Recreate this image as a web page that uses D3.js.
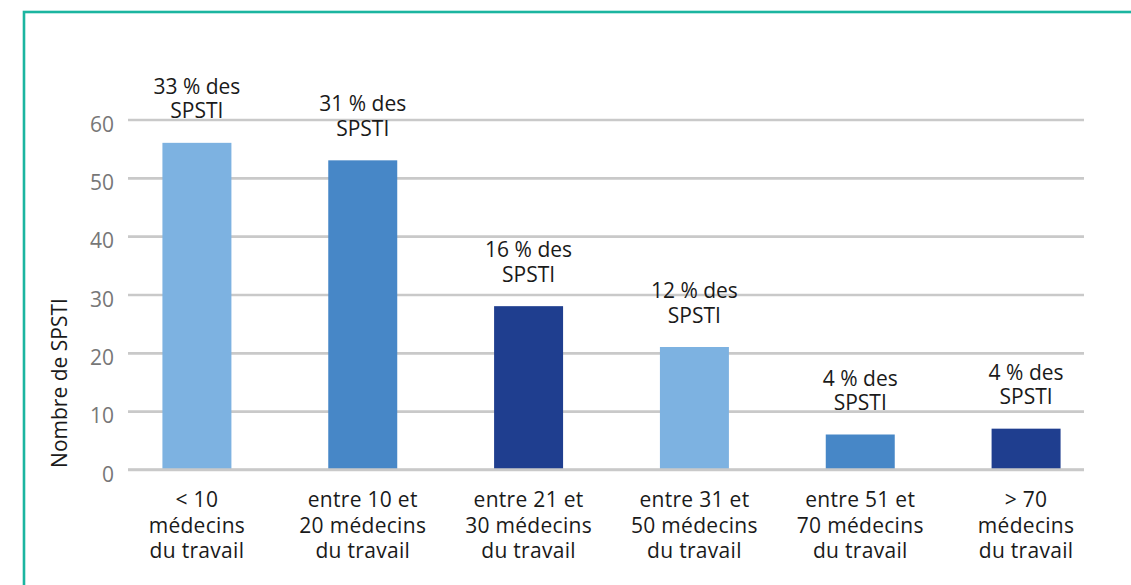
<!DOCTYPE html>
<html>
<head>
<meta charset="utf-8">
<script src="https://cdn.jsdelivr.net/npm/d3@7"></script>
<style>
  html, body { margin: 0; padding: 0; background: #fff; }
  svg { display: block; font-family: "Open Sans", sans-serif; }
</style>
</head>
<body>
<script>
// data
var categories = [
  ["< 10", "médecins", "du travail"],
  ["entre 10 et", "20 médecins", "du travail"],
  ["entre 21 et", "30 médecins", "du travail"],
  ["entre 31 et", "50 médecins", "du travail"],
  ["entre 51 et", "70 médecins", "du travail"],
  ["> 70", "médecins", "du travail"]
];
var values = [56, 53, 28, 21, 6, 7];
var shares = ["33 % des", "31 % des", "16 % des", "12 % des", "4 % des", "4 % des"];
var yTicks = [0, 10, 20, 30, 40, 50, 60];
var colors = ["#7db2e1", "#4787c7", "#1f3e8f", "#7db2e1", "#4787c7", "#1f3e8f"];

var width = 1131, height = 585;
var svg = d3.select("body").append("svg")
  .attr("width", width)
  .attr("height", height);

// teal frame
svg.append("rect")
  .attr("x", 24).attr("y", 12)
  .attr("width", 1200).attr("height", 700)
  .attr("fill", "none")
  .attr("stroke", "#1bb5a0")
  .attr("stroke-width", 2.6);

var gridLeft = 128, gridRight = 1084;

var y = d3.scaleLinear()
  .domain([0, 60])
  .range([469.5, 119.5]);

var x = d3.scaleBand()
  .domain(d3.range(categories.length))
  .range([114, 1109])
  .paddingInner(0.584)
  .paddingOuter(0.292);

var yAxis = d3.axisLeft(y)
  .tickValues(yTicks)
  .tickSize(-(gridRight - gridLeft))
  .tickPadding(14);

var gy = svg.append("g")
  .attr("transform", "translate(" + gridLeft + ",0)")
  .call(yAxis);
gy.select(".domain").remove();
gy.selectAll(".tick line")
  .attr("stroke", "#c9c9c9")
  .attr("stroke-width", 2.6);
gy.selectAll(".tick text")
  .attr("fill", "#777")
  .attr("dy", "0.55em")
  .style("font-size", "21px")
  .style("font-family", "'Open Sans', sans-serif");

// bars
svg.selectAll(".bar")
  .data(values)
  .enter()
  .append("rect")
  .attr("class", "bar")
  .attr("x", function(d, i) { return x(i); })
  .attr("y", function(d) { return y(d); })
  .attr("width", x.bandwidth())
  .attr("height", function(d) { return y(0) - y(d); })
  .attr("fill", function(d, i) { return colors[i]; });

// baseline on top of bars
svg.append("line")
  .attr("x1", gridLeft).attr("x2", gridRight)
  .attr("y1", y(0)).attr("y2", y(0))
  .attr("stroke", "#c9c9c9")
  .attr("stroke-width", 2.6);

// labels above bars
var lab = svg.selectAll(".share")
  .data(values)
  .enter()
  .append("text")
  .attr("class", "share")
  .attr("text-anchor", "middle")
  .attr("fill", "#1a1a1a")
  .style("font-size", "21px");
lab.append("tspan")
  .attr("x", function(d, i) { return x(i) + x.bandwidth() / 2; })
  .attr("y", function(d) { return y(d) - 49; })
  .text(function(d, i) { return shares[i]; });
lab.append("tspan")
  .attr("x", function(d, i) { return x(i) + x.bandwidth() / 2; })
  .attr("y", function(d) { return y(d) - 24.5; })
  .text("SPSTI");

// x labels
var xl = svg.selectAll(".xlab")
  .data(categories)
  .enter()
  .append("text")
  .attr("class", "xlab")
  .attr("text-anchor", "middle")
  .attr("fill", "#1a1a1a")
  .style("font-size", "21px")
  .style("letter-spacing", "0.3px");
xl.each(function(lines, i) {
  var t = d3.select(this);
  lines.forEach(function(s, k) {
    t.append("tspan")
      .attr("x", x(i) + x.bandwidth() / 2)
      .attr("y", 507 + k * 25.5)
      .text(s);
  });
});

// y title
svg.append("text")
  .attr("transform", "translate(67,383) rotate(-90)")
  .attr("text-anchor", "middle")
  .attr("fill", "#1a1a1a")
  .style("font-size", "21px")
  .text("Nombre de SPSTI");
</script>
</body>
</html>
